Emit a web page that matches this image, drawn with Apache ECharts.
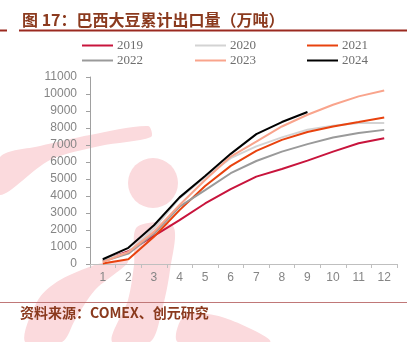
<!DOCTYPE html>
<html><head><meta charset="utf-8">
<script src="https://cdn.jsdelivr.net/npm/echarts@6/dist/echarts.min.js"></script>
<style>html,body{margin:0;padding:0;background:#fff}#c{width:416px;height:342px}</style>
</head><body><div id="c"></div>
<script>
const months = ['1','2','3','4','5','6','7','8','9','10','11','12'];
const s2019 = [200, 750, 1650, 2580, 3560, 4400, 5140, 5590, 6080, 6610, 7100, 7400];
const s2020 = [240, 690, 2100, 3870, 5100, 6230, 6920, 7450, 7900, 8130, 8290, 8300];
const s2021 = [30, 280, 1600, 3170, 4590, 5770, 6650, 7300, 7760, 8090, 8350, 8620];
const s2022 = [150, 610, 1790, 3370, 4350, 5340, 6060, 6610, 7050, 7440, 7700, 7890];
const s2023 = [120, 700, 1890, 3470, 4940, 6320, 7200, 8090, 8780, 9370, 9860, 10200];
const s2024 = [280, 950, 2280, 3920, 5180, 6480, 7640, 8350, 8940];
const names = ['2019','2020','2021','2022','2023','2024'];
const colors = ['#C8143C','#D3D3D3','#E8420E','#9A9A9A','#F9A48C','#000000'];
const dataSets = [s2019,s2020,s2021,s2022,s2023,s2024];

const chart = echarts.init(document.getElementById('c'), null, {renderer:'canvas'});
const wm = '#FBDADD';
function poly(pts){return {type:'polygon', shape:{points:pts, smooth:0.3}, style:{fill:wm}, z:-10, silent:true};}
const legendPos = [[82,39],[195,39],[307,39],[82,54],[195,54],[307,54]];
chart.setOption({
  animation:false,
  backgroundColor:'#fff',
  graphic:[
    {type:'circle', shape:{cx:153, cy:183, r:25}, style:{fill:wm}, z:-10, silent:true},
    poly([[0,157],[40,146],[90,135],[148,126],[151,137],[100,146],[50,160],[0,195]]),
    poly([[137,227],[173,226],[170,270],[162,310],[150,342],[112,342],[128,300],[134,265]]),
    poly([[25,342],[38,300],[60,280],[105,262],[128,262],[95,290],[75,320],[62,342]]),
    poly([[178,342],[185,315],[225,318],[270,342]]),
    {type:'text', x:22, y:20, style:{text:'图 17：巴西大豆累计出口量（万吨）', fill:'#8B3A1E', font:'bold 16px "Noto Sans CJK SC"', textVerticalAlign:'middle'}},
    {type:'line', shape:{x1:0, y1:30.5, x2:7, y2:30.5}, style:{stroke:'#9B2A20', lineWidth:2}},
    {type:'line', shape:{x1:19, y1:30.5, x2:407, y2:30.5}, style:{stroke:'#9B2A20', lineWidth:2}},
    {type:'line', shape:{x1:0, y1:302.5, x2:407, y2:302.5}, style:{stroke:'#C07878', lineWidth:1}},
    {type:'text', x:20, y:313, style:{text:'资料来源：COMEX、创元研究', fill:'#8B3A1E', font:'bold 14px "Noto Sans CJK SC"', textVerticalAlign:'middle'}}
  ],
  legend: names.map((n,i)=>({
    data:[n], left:legendPos[i][0], top:legendPos[i][1], padding:0, itemWidth:31, itemHeight:2,
    icon:'rect',
    textStyle:{fontFamily:'Liberation Serif', fontSize:13, color:'#6E6E6E', padding:[0,0,0,-1]},
    itemStyle:{borderWidth:0}
  })),
  grid:{left:90, right:19, top:77, bottom:78, containLabel:false},
  xAxis:{
    type:'category', data:months, boundaryGap:true,
    axisLine:{lineStyle:{color:'#BFBFBF'}},
    axisTick:{show:true, alignWithLabel:false, lineStyle:{color:'#BFBFBF'}, length:4},
    axisLabel:{color:'#858585', fontSize:12, fontFamily:'Liberation Sans', margin:8}
  },
  yAxis:{
    type:'value', min:0, max:11000, interval:1000,
    axisLine:{show:true, lineStyle:{color:'#A0A0A0'}},
    axisTick:{show:true, length:4, lineStyle:{color:'#A0A0A0'}},
    splitLine:{show:false},
    axisLabel:{color:'#858585', fontSize:12, fontFamily:'Liberation Sans', margin:13, formatter:v=>String(v)}
  },
  series: dataSets.map((d,i)=>({
    name:names[i], type:'line', data:d, symbol:'none', smooth:false,
    lineStyle:{color:colors[i], width:2}, itemStyle:{color:colors[i]}, z:i===5?10:2+i
  }))
});
</script></body></html>
